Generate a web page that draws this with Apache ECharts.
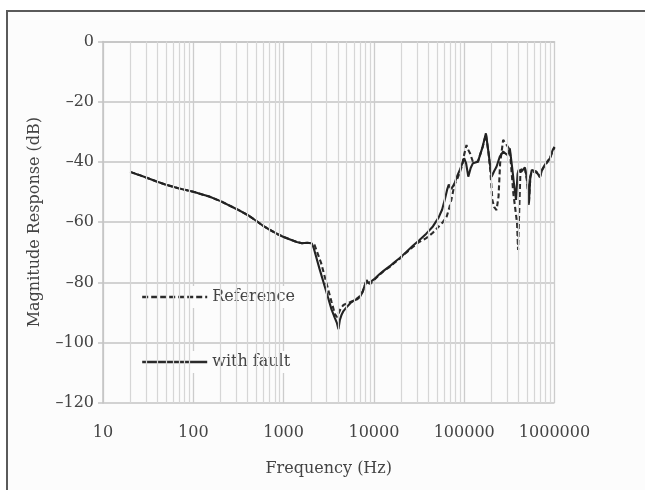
<!DOCTYPE html>
<html>
<head>
<meta charset="utf-8">
<script src="https://cdn.jsdelivr.net/npm/echarts@6/dist/echarts.min.js"></script>
<style>
  html, body { margin: 0; padding: 0; background: #ffffff; }
  #chart { width: 645px; height: 490px; }
</style>
</head>
<body>
<div id="chart"></div>
<script>
// Frequency response, magnitude in dB
var faultFreq = [20, 25, 30, 40, 50, 70, 100, 150, 200, 300, 400, 500, 600, 700, 850, 1000, 1200, 1400, 1600, 1800, 2050,
    2150, 2500, 3000, 3400, 3700, 3900, 4050, 4200, 4400, 4600, 5000, 5500, 6000, 6500, 7000, 7500, 8000, 8300, 8700, 9100,
    10000, 11500, 13000, 15000, 17000, 19500, 23000, 27000, 32000, 38000, 45000, 52000, 57000, 61000, 65000, 67500, 72000,
    78000, 83000, 90000, 94000, 100000, 105000, 111000, 118000, 125000, 142000, 160000, 174000, 186000, 201000, 215000,
    228000, 248000, 270000, 300000, 320000, 340000, 355000, 375000, 390000, 400000, 430000, 470000, 500000, 520000, 540000,
    560000, 630000, 690000, 730000, 780000, 850000, 890000, 950000, 1000000];
var faultDb = [-43.3, -44.3, -45.2, -46.6, -47.6, -48.8, -49.9, -51.5, -53.0, -55.6, -57.6, -59.6, -61.3, -62.5, -63.9, -64.9, -65.8, -66.6, -67.0, -66.8, -67.0,
    -68.5, -75.5, -83.5, -89.0, -91.8, -93.5, -95.5, -92.4, -90.6, -89.5, -88.2, -86.8, -86.0, -85.6, -84.8, -83.2, -80.5, -79.2, -80.3, -80.8,
    -79.0, -77.3, -76.0, -74.6, -73.2, -71.8, -69.8, -67.8, -65.9, -63.8, -61.4, -58.5, -55.8, -52.5, -49.0, -47.5, -49.0,
    -47.2, -44.9, -42.5, -41.0, -38.8, -40.5, -44.9, -42.0, -40.4, -39.9, -35.0, -30.5, -37.0, -44.9, -43.0,
    -41.6, -38.2, -36.6, -37.7, -35.5, -42.0, -47.0, -52.6, -44.0, -42.7, -43.2, -41.8, -46.0, -53.7, -45.0,
    -42.7, -43.2, -45.1, -42.5, -41.0, -39.5, -38.8, -36.2, -35.0];

var refFreq = [20, 25, 30, 40, 50, 70, 100, 150, 200, 300, 400, 500, 600, 700, 850, 1000, 1200, 1400, 1600, 1800, 2050,
    2200, 2600, 3000, 3400, 3700, 3900, 4100, 4300, 4600, 5000, 5500, 6000, 6500, 7000, 7500, 8000, 8300, 8700, 9100,
    10000, 11500, 13000, 15000, 17000, 19500, 23000, 27000, 32000, 38000, 45000, 52000, 58000, 64000, 68000, 72000,
    78000, 84000, 89000, 95000, 100000, 106000, 111000, 116000, 125000, 142000, 160000, 174000, 186000, 195000, 205000,
    215000, 228000, 240000, 250000, 270000, 290000, 320000, 350000, 385000, 395000, 410000, 420000, 470000, 500000, 520000,
    540000, 560000, 630000, 690000, 730000, 780000, 850000, 890000, 950000, 1000000];
var refDb = [-43.3, -44.3, -45.2, -46.6, -47.6, -48.8, -49.9, -51.5, -53.0, -55.6, -57.6, -59.6, -61.3, -62.5, -63.9, -64.9, -65.8, -66.6, -67.0, -66.8, -67.0,
    -67.5, -73.5, -80.5, -86.5, -90.5, -91.5, -90.0, -88.5, -87.5, -87.0, -86.5, -86.0, -85.3, -84.5, -83.0, -80.8, -79.5, -80.0, -80.5,
    -79.2, -77.5, -76.1, -74.8, -73.4, -72.0, -70.0, -68.2, -66.5, -65.3, -63.5, -61.5, -60.0, -58.1, -55.5, -52.6,
    -47.6, -45.5, -43.7, -41.0, -37.5, -34.4, -36.0, -37.1, -40.0, -39.9, -35.0, -30.8, -37.0, -43.0, -52.6,
    -55.0, -56.0, -51.5, -40.4, -32.7, -34.0, -36.0, -50.4, -60.3, -69.2, -52.6, -42.7, -42.0, -47.0, -54.3,
    -45.0, -43.2, -43.5, -45.0, -42.7, -41.2, -39.7, -39.0, -36.5, -35.2];

// minor log grid lines (2..9 of each decade)
var minorFreqs = [];
[10, 100, 1000, 10000, 100000].forEach(function(dec) {
    for (var k = 2; k <= 9; k++) minorFreqs.push(k * dec);
});

function pairs(xs, ys) {
    return xs.map(function(x, i) { return [x, ys[i]]; });
}

var FONT = 'DejaVu Serif';
var TEXT = '#444';
var BG = '#fcfcfc';

function legendBox(name, top, dash) {
    return {
        data: [name],
        left: 137,
        top: top,
        padding: [3, 4, 3, 4],
        backgroundColor: BG,
        itemWidth: 65,
        itemHeight: 14,
        itemStyle: { opacity: 0 },
        lineStyle: { width: 2.4, type: dash, color: '#2b2b2b' },
        textStyle: { fontFamily: FONT, fontSize: 16, color: TEXT }
    };
}

var chart = echarts.init(document.getElementById('chart'), null, { renderer: 'canvas' });
chart.setOption({
    animation: false,
    backgroundColor: '#ffffff',
    textStyle: { fontFamily: FONT, color: TEXT },
    graphic: [{
        type: 'rect',
        z: -10,
        shape: { x: 7, y: 11, width: 700, height: 600 },
        style: { fill: BG, stroke: '#5a5a5a', lineWidth: 2 }
    }],
    grid: { left: 103, right: 90.5, top: 41.4, bottom: 87 },
    legend: [legendBox('Reference', 286, [6, 3]), legendBox('with fault', 351, 'solid')],
    xAxis: {
        type: 'log',
        logBase: 10,
        min: 10,
        max: 1000000,
        interval: 1,
        name: 'Frequency (Hz)',
        nameLocation: 'middle',
        nameGap: 58,
        nameTextStyle: { fontFamily: FONT, fontSize: 16, color: TEXT },
        axisLine: { show: true, lineStyle: { color: '#c4c4c4', width: 1.5 } },
        axisTick: { show: false },
        axisLabel: {
            margin: 22,
            fontFamily: FONT, fontSize: 16, color: TEXT,
            formatter: function(v) { return String(Math.round(v)); }
        },
        splitLine: { show: true, lineStyle: { color: '#cccccc', width: 1.3 } }
    },
    yAxis: {
        type: 'value',
        min: -120,
        max: 0,
        interval: 20,
        name: 'Magnitude Response (dB)',
        nameLocation: 'middle',
        nameGap: 60,
        nameTextStyle: { fontFamily: FONT, fontSize: 16, color: TEXT },
        axisLine: { show: true, lineStyle: { color: '#c4c4c4', width: 1.5 } },
        axisTick: { show: true, length: 5, lineStyle: { color: '#c4c4c4', width: 1.5 } },
        axisLabel: {
            margin: 9,
            fontFamily: FONT, fontSize: 16, color: TEXT,
            formatter: function(v) { return v === 0 ? '0' : '\u2013' + Math.abs(v); }
        },
        splitLine: { show: true, lineStyle: { color: '#c4c4c4', width: 1.5 } }
    },
    series: [{
        name: 'grid',
        type: 'line',
        z: 1,
        silent: true,
        data: [],
        markLine: {
            silent: true,
            symbol: 'none',
            label: { show: false },
            lineStyle: { color: '#d6d6d6', type: 'solid', width: 1.2 },
            data: minorFreqs.map(function(f) { return { xAxis: f }; })
        }
    }, {
        name: 'Reference',
        type: 'line',
        z: 3,
        showSymbol: false,
        symbol: 'none',
        data: pairs(refFreq, refDb),
        lineStyle: { color: '#2b2b2b', width: 2.1, type: [5, 3] },
        itemStyle: { color: '#2b2b2b' }
    }, {
        name: 'with fault',
        type: 'line',
        z: 4,
        showSymbol: false,
        symbol: 'none',
        data: pairs(faultFreq, faultDb),
        lineStyle: { color: '#222222', width: 2.1 },
        itemStyle: { color: '#222222' }
    }]
});
</script>
</body>
</html>
